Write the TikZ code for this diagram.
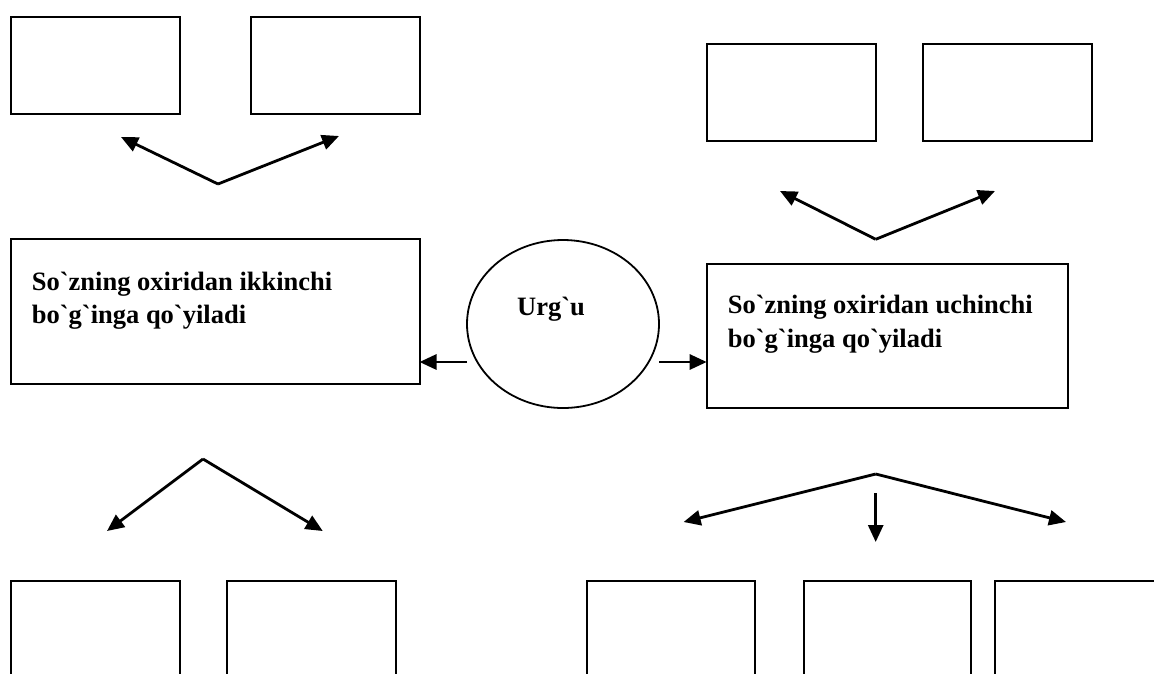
\documentclass[tikz,border=0pt]{standalone}
\usetikzlibrary{arrows.meta,shapes.geometric}
\font\tnrb="Liberation Serif/B" at 26.5pt
\begin{document}
\begin{tikzpicture}[x=1pt,y=-1pt,
  boxnode/.style={draw, line width=2pt, rectangle, inner sep=0pt, outer sep=0pt},
  txt/.style={font=\tnrb, inner sep=0pt, anchor=base west},
  arr/.style={line width=2.8pt, -{Triangle[length=17pt,width=15pt]}}]
\useasboundingbox (0,0) rectangle (1154,673);
\clip (0,0) rectangle (1154,673);
\fill[white] (0,0) rectangle (1154,673);
% top-left boxes
\node[boxnode, minimum width=169pt, minimum height=96.7pt] (tl1) at (95.2,65.35) {};
\node[boxnode, minimum width=168.7pt, minimum height=96.7pt] (tl2) at (335.35,65.35) {};
% top-right boxes
\node[boxnode, minimum width=169pt, minimum height=96.4pt] (tr1) at (791.2,92.5) {};
\node[boxnode, minimum width=169pt, minimum height=96.4pt] (tr2) at (1007.5,92.5) {};
% middle boxes
\node[boxnode, minimum width=408.8pt, minimum height=144.7pt] (lbox) at (215.1,311.65) {};
\node[boxnode, minimum width=361pt, minimum height=143.5pt] (rbox) at (887.2,335.75) {};
\node[txt] (ltext) at (31.7,290) {\vtop{\baselineskip=33pt\hbox{So`zning oxiridan ikkinchi}\hbox{bo`g`inga qo`yiladi}}};
\node[txt] (rtext) at (727.7,313) {\vtop{\baselineskip=34pt\hbox{So`zning oxiridan uchinchi}\hbox{bo`g`inga qo`yiladi}}};
% ellipse
\node[draw, ellipse, line width=1.8pt, minimum width=192pt, minimum height=168pt, inner sep=0pt] (ell) at (563,324) {};
\node[txt] (urgu) at (517,315) {Urg`u};
% bottom boxes
\node[boxnode, minimum width=169pt, minimum height=120pt] (bl1) at (95.2,641) {};
\node[boxnode, minimum width=169pt, minimum height=120pt] (bl2) at (311.2,641) {};
\node[boxnode, minimum width=168.2pt, minimum height=120pt] (br1) at (670.9,641) {};
\node[boxnode, minimum width=167.5pt, minimum height=120pt] (br2) at (887.25,641) {};
\node[boxnode, minimum width=169pt, minimum height=120pt] (br3) at (1079.8,641) {};
% coordinates
\coordinate (a1) at (218,184);
\coordinate (a1l) at (121,137);
\coordinate (a1r) at (339,136);
\coordinate (a2) at (875.7,239.3);
\coordinate (a2l) at (780,191);
\coordinate (a2r) at (995,191);
\coordinate (a3) at (203,459);
\coordinate (a3l) at (107,531);
\coordinate (a3r) at (322.7,531);
\coordinate (a4) at (875.7,474);
\coordinate (a4l) at (683.6,522);
\coordinate (a4r) at (1066,522);
\coordinate (a4s) at (875.7,493);
\coordinate (a4d) at (875.7,542);
\coordinate (el) at (467,362);
\coordinate (er) at (659,362);
% arrows
\draw[arr] (a1) -- (a1l);
\draw[arr] (a1) -- (a1r);
\draw[arr] (a2) -- (a2l);
\draw[arr] (a2) -- (a2r);
\draw[arr] (a3) -- (a3l);
\draw[arr] (a3) -- (a3r);
\draw[arr] (a4) -- (a4l);
\draw[arr] (a4) -- (a4r);
\draw[arr] (a4s) -- (a4d);
\draw[arr] (el) -- (lbox.east |- el);
\draw[arr] (er) -- (rbox.west |- er);
\end{tikzpicture}
\end{document}
